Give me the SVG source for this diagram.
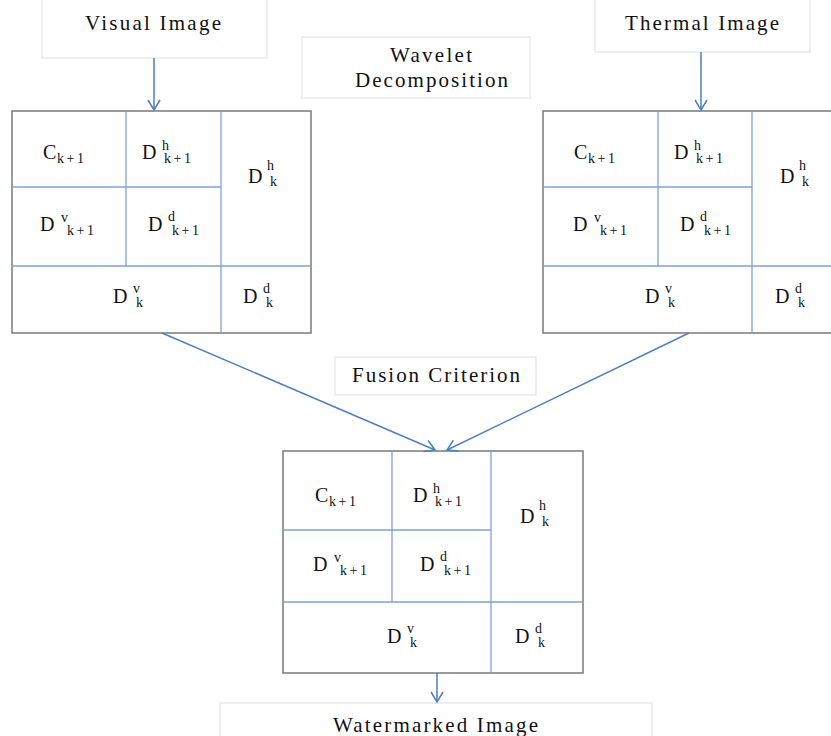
<svg xmlns="http://www.w3.org/2000/svg" width="831" height="736" viewBox="0 0 831 736">
<style>
  .box{fill:#fff;stroke:#e4e4e4;stroke-width:1.2}
  .grid{fill:#fff;stroke:#7a7a7a;stroke-width:1.5}
  .div{stroke:#7fa3d6;stroke-width:1.3;fill:none}
  .conn{stroke:#4f7fbd;stroke-width:1.5;fill:none}
  .t{font-size:21px}
  .m{font-size:20px}
  .s{font-size:14px}
</style>
<defs>
  <marker id="ah" markerUnits="userSpaceOnUse" markerWidth="14" markerHeight="14" viewBox="0 0 14 14" refX="11" refY="7" orient="auto">
    <path d="M1,1 L11,7 L1,13" fill="none" stroke="#4f7fbd" stroke-width="1.5"/>
  </marker>
</defs>
<rect width="831" height="736" fill="#fff"/>
<g font-family="Liberation Serif, DejaVu Serif, serif" fill="#111">
<g id="visual-image">
  <rect class="box" x="42" y="-2" width="225" height="60"/>
  <text class="t" x="85" y="30" textLength="136" lengthAdjust="spacing">Visual Image</text>
</g>
<g id="wavelet-decomposition">
  <rect class="box" x="302" y="37" width="228" height="61"/>
  <text class="t" x="390" y="62" textLength="82" lengthAdjust="spacing">Wavelet</text>
  <text class="t" x="355" y="87" textLength="153" lengthAdjust="spacing">Decomposition</text>
</g>
<g id="thermal-image">
  <rect class="box" x="595" y="-2" width="215" height="54"/>
  <text class="t" x="625" y="30" textLength="154" lengthAdjust="spacing">Thermal Image</text>
</g>
<g id="fusion-criterion">
  <rect class="box" x="335" y="357" width="201" height="38"/>
  <text class="t" x="352" y="382" textLength="168" lengthAdjust="spacing">Fusion Criterion</text>
</g>
<g id="watermarked-image">
  <rect class="box" x="220" y="703" width="432" height="40"/>
  <text class="t" x="333" y="732" textLength="205" lengthAdjust="spacing">Watermarked Image</text>
</g>

<g id="visual-decomposition" transform="translate(12,111)">
  <rect class="grid" x="0" y="0" width="299" height="222"/>
  <path class="div" d="M114,0 V155 M209,0 V222 M0,76 H209 M0,155 H299"/>
  <text class="m" x="31" y="48">C</text><text class="s" x="45" y="52" textLength="27" lengthAdjust="spacing">k+1</text>
  <text class="m" x="130" y="48">D</text><text class="s" x="150" y="39">h</text><text class="s" x="152" y="52" textLength="27" lengthAdjust="spacing">k+1</text>
  <text class="m" x="236" y="72">D</text><text class="s" x="255" y="59">h</text><text class="s" x="258" y="75">k</text>
  <text class="m" x="28" y="120">D</text><text class="s" x="49" y="111">v</text><text class="s" x="55" y="124" textLength="27" lengthAdjust="spacing">k+1</text>
  <text class="m" x="136" y="120">D</text><text class="s" x="156" y="110">d</text><text class="s" x="160" y="124" textLength="27" lengthAdjust="spacing">k+1</text>
  <text class="m" x="101" y="192">D</text><text class="s" x="121" y="182">v</text><text class="s" x="124" y="196">k</text>
  <text class="m" x="231" y="192">D</text><text class="s" x="251" y="182">d</text><text class="s" x="254" y="196">k</text>
</g>

<g id="thermal-decomposition" transform="translate(543,111)">
  <rect class="grid" x="0" y="0" width="299" height="222"/>
  <path class="div" d="M115,0 V155 M209,0 V222 M0,76 H209 M0,155 H299"/>
  <text class="m" x="31" y="48">C</text><text class="s" x="45" y="52" textLength="27" lengthAdjust="spacing">k+1</text>
  <text class="m" x="131" y="48">D</text><text class="s" x="151" y="39">h</text><text class="s" x="153" y="52" textLength="27" lengthAdjust="spacing">k+1</text>
  <text class="m" x="237" y="72">D</text><text class="s" x="256" y="59">h</text><text class="s" x="259" y="75">k</text>
  <text class="m" x="30" y="120">D</text><text class="s" x="51" y="111">v</text><text class="s" x="57" y="124" textLength="27" lengthAdjust="spacing">k+1</text>
  <text class="m" x="137" y="120">D</text><text class="s" x="157" y="110">d</text><text class="s" x="161" y="124" textLength="27" lengthAdjust="spacing">k+1</text>
  <text class="m" x="102" y="192">D</text><text class="s" x="122" y="182">v</text><text class="s" x="125" y="196">k</text>
  <text class="m" x="232" y="192">D</text><text class="s" x="252" y="182">d</text><text class="s" x="255" y="196">k</text>
</g>

<g id="fused-decomposition" transform="translate(283,451)">
  <rect class="grid" x="0" y="0" width="300" height="222"/>
  <path class="div" d="M109,0 V151 M208,0 V222 M0,79 H208 M0,151 H300"/>
  <text class="m" x="32" y="51">C</text><text class="s" x="46" y="55" textLength="27" lengthAdjust="spacing">k+1</text>
  <text class="m" x="130" y="51">D</text><text class="s" x="150" y="42">h</text><text class="s" x="152" y="55" textLength="27" lengthAdjust="spacing">k+1</text>
  <text class="m" x="237" y="72">D</text><text class="s" x="256" y="59">h</text><text class="s" x="259" y="75">k</text>
  <text class="m" x="30" y="120">D</text><text class="s" x="51" y="111">v</text><text class="s" x="57" y="124" textLength="27" lengthAdjust="spacing">k+1</text>
  <text class="m" x="137" y="120">D</text><text class="s" x="157" y="110">d</text><text class="s" x="161" y="124" textLength="27" lengthAdjust="spacing">k+1</text>
  <text class="m" x="104" y="192">D</text><text class="s" x="124" y="182">v</text><text class="s" x="127" y="196">k</text>
  <text class="m" x="232" y="192">D</text><text class="s" x="252" y="182">d</text><text class="s" x="255" y="196">k</text>
</g>
</g>
<g id="connectors">
  <line class="conn" x1="154" y1="58" x2="154" y2="110" marker-end="url(#ah)"/>
  <line class="conn" x1="701" y1="52" x2="701" y2="110" marker-end="url(#ah)"/>
  <line class="conn" x1="162" y1="333" x2="435" y2="450" marker-end="url(#ah)"/>
  <line class="conn" x1="689" y1="333" x2="447" y2="450" marker-end="url(#ah)"/>
  <line class="conn" x1="437" y1="673" x2="437" y2="702" marker-end="url(#ah)"/>
</g>
</svg>
